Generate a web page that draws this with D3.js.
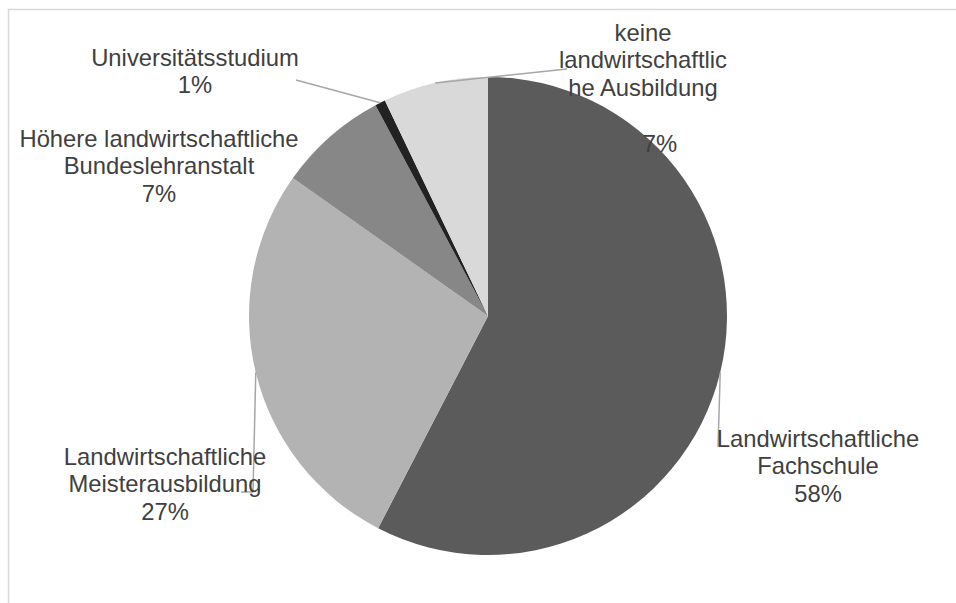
<!DOCTYPE html>
<html>
<head>
<meta charset="utf-8">
<script src="https://cdn.jsdelivr.net/npm/d3@7"></script>
<style>
html,body{margin:0;padding:0;background:#fff;}
svg{display:block;}
text{font-family:"Liberation Sans",Arial,sans-serif;fill:#404040;}
</style>
</head>
<body>
<svg id="chart" width="956" height="603"></svg>
<script>
// Data
const categories = [
  "Landwirtschaftliche Fachschule",
  "Landwirtschaftliche Meisterausbildung",
  "Höhere landwirtschaftliche Bundeslehranstalt",
  "Universitätsstudium",
  "keine landwirtschaftliche Ausbildung"
];
const values = [57.6, 27.2, 7.4, 0.7, 7.1];
const percentLabels = ["58%", "27%", "7%", "1%", "7%"];
const labelLines = [
  ["Landwirtschaftliche", "Fachschule", "58%"],
  ["Landwirtschaftliche", "Meisterausbildung", "27%"],
  ["Höhere landwirtschaftliche", "Bundeslehranstalt", "7%"],
  ["Universitätsstudium", "1%"],
  ["keine", "landwirtschaftlic", "he Ausbildung"]
];
const colors = ["#5b5b5b", "#b3b3b3", "#878787", "#222222", "#d9d9d9"];

// Layout
const W = 956, H = 603;
const cx = 488, cy = 316, R = 239;
const fontSize = 23.8, lineH = 27.4;
// label anchor: centre x, first baseline y
const labelPos = [
  {x: 818, y: 447},
  {x: 165, y: 465},
  {x: 159, y: 147},
  {x: 195, y: 66},
  {x: 643, y: 41}
];
// leader-line end points (label side)
const leaderEnd = [
  [[718, 447]],
  [[253, 492], [241, 492]],
  null,
  [[296, 80]],
  [[567, 69]]
];

const svg = d3.select("#chart");

svg.append("rect")
  .attr("x", 8.5).attr("y", 9.5)
  .attr("width", W).attr("height", H)
  .attr("fill", "none").attr("stroke", "#d9d9d9").attr("stroke-width", 1.5);

const pie = d3.pie().sort(null).value(d => d);
const arcs = pie(values);
const arc = d3.arc().innerRadius(0).outerRadius(R);

const g = svg.append("g").attr("transform", `translate(${cx},${cy})`);
g.selectAll("path.slice")
  .data(arcs)
  .join("path")
  .attr("class", "slice")
  .attr("d", arc)
  .attr("fill", (d, i) => colors[i]);

// leader lines
arcs.forEach((a, i) => {
  if (!leaderEnd[i]) return;
  const mid = (a.startAngle + a.endAngle) / 2;
  const sx = cx + R * Math.sin(mid), sy = cy - R * Math.cos(mid);
  const pts = [[sx, sy]].concat(leaderEnd[i]);
  svg.append("path")
    .attr("d", d3.line()(pts))
    .attr("fill", "none")
    .attr("stroke", "#a6a6a6")
    .attr("stroke-width", 1.5);
});

// labels
labelLines.forEach((lines, i) => {
  const t = svg.append("text")
    .attr("text-anchor", "middle")
    .attr("font-size", fontSize);
  lines.forEach((ln, k) => {
    t.append("tspan")
      .attr("x", labelPos[i].x)
      .attr("y", labelPos[i].y + k * lineH)
      .text(ln);
  });
});
// separate percentage for the last category
svg.append("text")
  .attr("text-anchor", "middle")
  .attr("font-size", fontSize)
  .attr("x", 660).attr("y", 152)
  .text(percentLabels[4]);
</script>
</body>
</html>
